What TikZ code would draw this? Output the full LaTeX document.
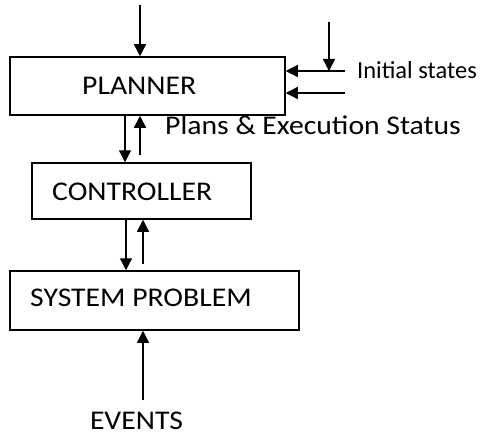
\documentclass[tikz,border=0pt]{standalone}
\usepackage{fontspec}
\setmainfont{Carlito}
\newfontfamily\wfont[FakeStretch=1.1]{Carlito}
\usetikzlibrary{arrows.meta}
\begin{document}
\begin{tikzpicture}[x=1pt,y=-1pt,
  box/.style={draw, line width=1.5pt, inner sep=0pt},
  lbl/.style={inner sep=0pt, font=\wfont\fontsize{27}{30}\selectfont},
  arr/.style={line width=1.3pt, -{Triangle[width=12pt,length=12pt]}}]
\useasboundingbox (0,0) rectangle (484,436);
% boxes
\node[box, minimum width=275pt, minimum height=58pt] (planner) at (147.5,86) {};
\node[box, minimum width=219pt, minimum height=56pt] (ctrl) at (141.5,191) {};
\node[box, minimum width=289pt, minimum height=59pt] (sys) at (154.5,300.5) {};
% texts
\node[lbl, anchor=west] (tplanner) at (82,86) {PLANNER};
\node[lbl, anchor=west] (tctrl) at (52,192) {CONTROLLER};
\node[lbl, anchor=west] (tsys) at (30,298) {SYSTEM PROBLEM};
\node[lbl, anchor=west, font=\fontsize{24.5}{28}\selectfont] (tinit) at (357,70) {Initial states};
\node[lbl, anchor=west] (tplans) at (165,125) {Plans \& Execution Status};
\node[lbl] (tevents) at (136.5,421) {EVENTS};
% free ends
\coordinate (ptop) at (140,5);
\coordinate (itop) at (329,22);
\coordinate (ih1) at (345,71);
\coordinate (ih2) at (345,93);
\coordinate (pcup) at (140,155);
\coordinate (csup) at (143,264);
\coordinate (ev) at (143,400);
% connectors
\draw[arr] (ptop) -- (ptop |- planner.north);
\draw[arr] (itop) -- (itop |- ih1);
\draw[arr] (ih1) -- (ih1 -| planner.east);
\draw[arr] (ih2) -- (ih2 -| planner.east);
\draw[arr] (125,0 |- planner.south) -- (125,0 |- ctrl.north);
\draw[arr] (pcup) -- (pcup |- planner.south);
\draw[arr] (126,0 |- ctrl.south) -- (126,0 |- sys.north);
\draw[arr] (csup) -- (csup |- ctrl.south);
\draw[arr] (ev) -- (ev |- sys.south);
\end{tikzpicture}
\end{document}
